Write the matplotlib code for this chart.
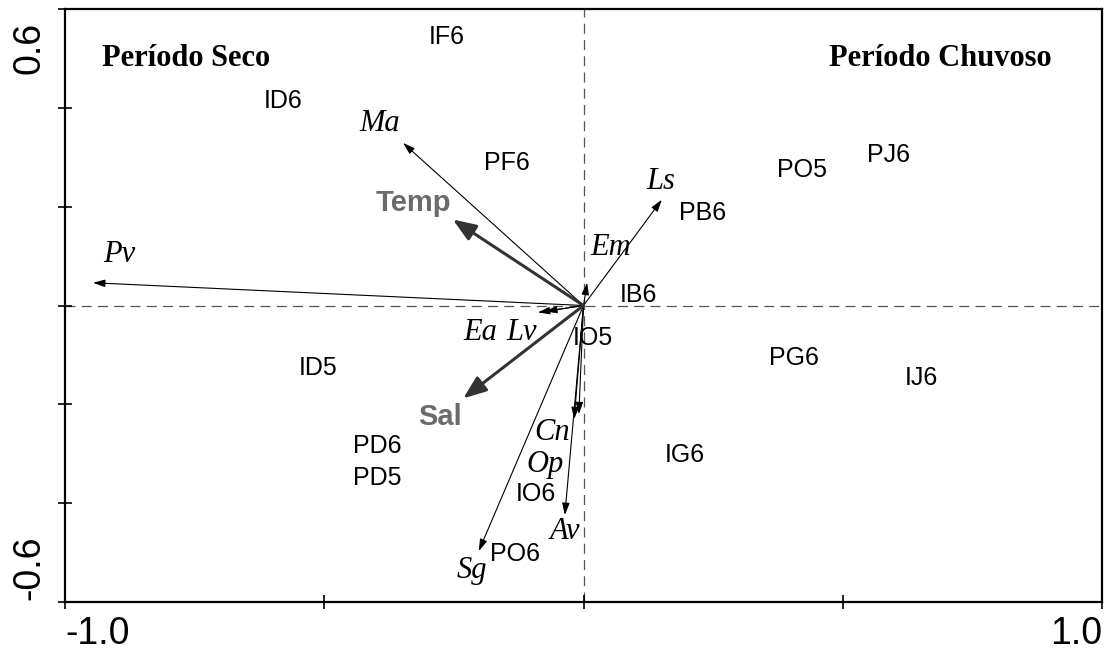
import matplotlib
matplotlib.use("Agg")
import matplotlib.pyplot as plt

# escores dos locais (amostras)
sites = ["IF6", "ID6", "PF6", "PJ6", "PO5", "PB6", "IB6", "IO5",
         "ID5", "PG6", "IJ6", "PD6", "PD5", "IG6", "IO6", "PO6"]
site_x = [-0.263, -0.580, -0.148, 0.589, 0.421, 0.229, 0.105, 0.018,
          -0.512, 0.406, 0.651, -0.398, -0.398, 0.196, -0.092, -0.132]
site_y = [0.543, 0.414, 0.289, 0.305, 0.275, 0.188, 0.022, -0.065,
          -0.127, -0.107, -0.147, -0.285, -0.349, -0.303, -0.382, -0.503]

# vetores das especies (ponta da seta) e posicao do rotulo
species = ["Pv", "Ma", "Ls", "Em", "Ea", "Lv", "Cn", "Op", "Av", "Sg"]
sp_x = [-0.946, -0.348, 0.151, 0.007, -0.088, -0.074, -0.009, -0.018, -0.036, -0.202]
sp_y = [0.046, 0.329, 0.214, 0.046, -0.014, -0.012, -0.220, -0.230, -0.424, -0.497]
sp_lab_x = [-0.896, -0.394, 0.149, 0.053, -0.200, -0.119, -0.061, -0.074, -0.036, -0.215]
sp_lab_y = [0.103, 0.368, 0.251, 0.117, -0.055, -0.055, -0.257, -0.321, -0.457, -0.537]

# variaveis ambientais
env = ["Temp", "Sal"]
env_x = [-0.252, -0.232]
env_y = [0.174, -0.188]
env_lab_x = [-0.329, -0.277]
env_lab_y = [0.208, -0.226]

fig = plt.figure(figsize=(11.08, 6.53), dpi=100)
ax = fig.add_axes([65 / 1108, 51 / 653, 1037 / 1108, 593 / 653])

ax.set_xlim(-1.0, 1.0)
ax.set_ylim(-0.6, 0.6)

# linhas de referencia
ax.axhline(0, color="#555555", lw=0.9, ls=(0, (8, 5)), zorder=1)
ax.axvline(0, color="#555555", lw=0.9, ls=(0, (8, 5)), zorder=1)

for name, x, y in zip(sites, site_x, site_y):
    ax.text(x, y, name, fontsize=18, family="Liberation Sans",
            ha="center", va="center", zorder=4)

for name, x, y, lx, ly in zip(species, sp_x, sp_y, sp_lab_x, sp_lab_y):
    ax.annotate("", xy=(x, y), xytext=(0, 0),
                arrowprops=dict(arrowstyle="-|>,head_length=0.8,head_width=0.25",
                                mutation_scale=9, color="black", lw=0.8,
                                shrinkA=0, shrinkB=0), zorder=3)
    ax.text(lx, ly, name, fontsize=22, family="Liberation Serif", style="italic",
            ha="center", va="center", zorder=4)

for name, x, y, lx, ly in zip(env, env_x, env_y, env_lab_x, env_lab_y):
    ax.annotate("", xy=(x, y), xytext=(0, 0),
                arrowprops=dict(arrowstyle="-|>,head_length=0.7,head_width=0.27",
                                mutation_scale=20, color="#333333", lw=2.2,
                                shrinkA=0, shrinkB=0), zorder=3)
    ax.text(lx, ly, name, fontsize=21, family="Liberation Sans", fontweight="bold",
            color="#6b6b6b", ha="center", va="center", zorder=4)

ax.text(0.117, 0.916, "Período Seco", transform=ax.transAxes, fontsize=22,
        family="Liberation Serif", fontweight="bold", ha="center", va="center")
ax.text(0.844, 0.916, "Período Chuvoso", transform=ax.transAxes, fontsize=22,
        family="Liberation Serif", fontweight="bold", ha="center", va="center")

# eixos
for side in ax.spines.values():
    side.set_linewidth(1.6)

ax.set_xticks([-1.0, -0.5, 0.0, 0.5, 1.0])
ax.set_xticklabels(["-1.0", "", "", "", "1.0"], fontsize=27, family="Liberation Sans")
ax.set_yticks([-0.6, -0.4, -0.2, 0.0, 0.2, 0.4, 0.6])
ax.set_yticklabels([])
ax.tick_params(direction="inout", length=10, width=1.2)
ax.tick_params(axis="x", pad=5)

xl = ax.get_xticklabels()
xl[0].set_ha("left")
xl[-1].set_ha("right")

# rotulos do eixo y, rodados e puxados para dentro como no original
ax.text(-0.034, 0.935, "0.6", transform=ax.transAxes, fontsize=27,
        family="Liberation Sans", rotation=90, ha="center", va="center")
ax.text(-0.034, 0.058, "-0.6", transform=ax.transAxes, fontsize=27,
        family="Liberation Sans", rotation=90, ha="center", va="center")

fig.savefig("out.png", dpi=100)
